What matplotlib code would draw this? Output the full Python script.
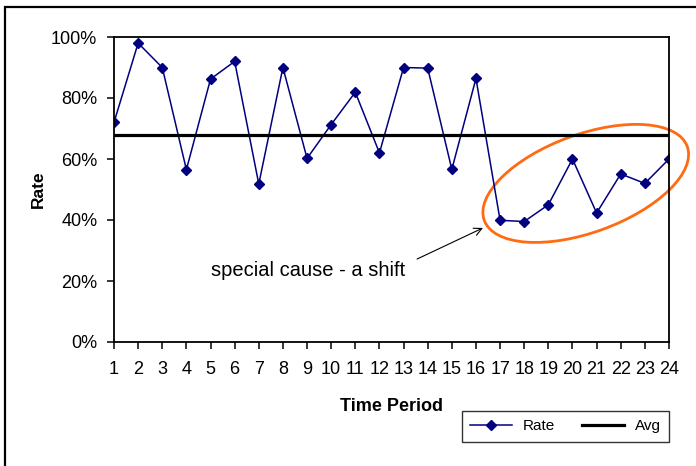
import numpy as np
import matplotlib
matplotlib.use("Agg")
import matplotlib.pyplot as plt
from matplotlib.patches import Ellipse, Rectangle
from matplotlib.ticker import PercentFormatter

plt.rcParams['font.family'] = ['Liberation Sans', 'DejaVu Sans']

# data
periods = list(range(1, 25))
rate = [0.72, 0.98, 0.90, 0.565, 0.862, 0.92, 0.518, 0.90, 0.602, 0.713,
        0.819, 0.62, 0.90, 0.898, 0.566, 0.864, 0.399, 0.395, 0.45, 0.60,
        0.423, 0.551, 0.52, 0.60]
avg = [np.mean(rate)] * len(periods)
y_ticks = [0, 0.2, 0.4, 0.6, 0.8, 1.0]

fig = plt.figure(figsize=(6.96, 4.66), dpi=100)
ax = fig.add_axes([114 / 696, 124 / 466, 555 / 696, 305 / 466])

# outer chart frame (runs off the right/bottom edge in the original)
fig.patches.append(Rectangle((5 / 696, -0.2), 1.2, 1 - 7 / 466 + 0.2,
                             transform=fig.transFigure, fill=False,
                             edgecolor='black', linewidth=1.6))

ax.plot(periods, rate, color='#000080', linewidth=1.1, marker='D',
        markersize=5.5, label='Rate')
ax.plot(periods, avg, color='black', linewidth=2.3, label='Avg')

ax.set_xlim(1, 24)
ax.set_ylim(0, 1.0)
ax.set_xticks(periods)
ax.set_yticks(y_ticks)
ax.yaxis.set_major_formatter(PercentFormatter(1.0, decimals=0))
ax.tick_params(axis='both', direction='out', length=5, width=1.1,
               labelsize=13, colors='black')
ax.tick_params(axis='y', pad=7)
ax.tick_params(axis='x', pad=9)
for s in ax.spines.values():
    s.set_linewidth(1.3)
    s.set_color('black')

ax.set_ylabel('Rate', fontsize=12.5, fontweight='bold')
ax.yaxis.set_label_coords(-0.1225, 0.5)
ax.set_xlabel('Time Period', fontsize=13, fontweight='bold')
ax.xaxis.set_label_coords(0.5, -0.184)

# highlight the shift
cx, cy = ax.transData.transform((20.55, 0.52))
ax.add_artist(Ellipse((cx, cy), 216, 98, angle=20, transform=None,
                      fill=False, edgecolor='#FF6A13', linewidth=2.0,
                      clip_on=False))

ax.text(9.06, 0.236, 'special cause - a shift', fontsize=14.5,
        ha='center', va='center')
ax.annotate('', xy=(16.29, 0.374), xytext=(13.56, 0.272),
            arrowprops=dict(arrowstyle='->', color='black', linewidth=0.8,
                            shrinkA=0, shrinkB=0, mutation_scale=14))

leg = ax.legend(loc='upper right', bbox_to_anchor=(1.0, -0.226), ncol=2,
                borderaxespad=0, frameon=True, fancybox=False, fontsize=11,
                handlelength=2.75, handletextpad=0.7, columnspacing=1.75,
                borderpad=0.55, edgecolor='black')
leg.get_frame().set_linewidth(1.0)

fig.savefig('out.png', dpi=100)
